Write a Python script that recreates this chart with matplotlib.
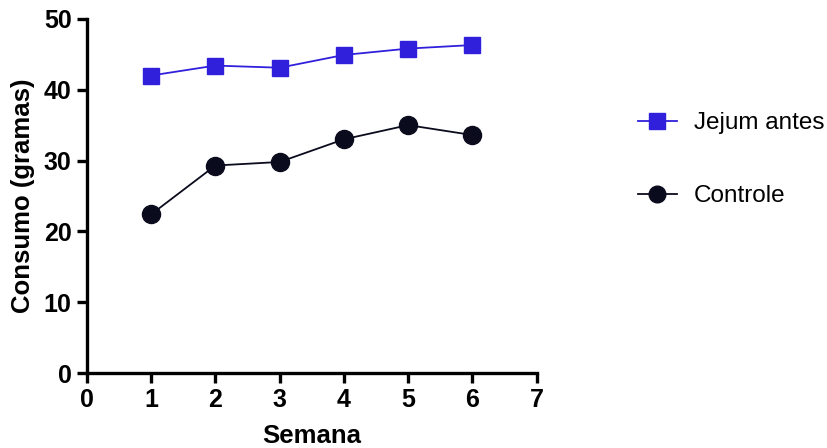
import matplotlib
matplotlib.use("Agg")
import matplotlib.pyplot as plt
from matplotlib.lines import Line2D

semanas = [1, 2, 3, 4, 5, 6]
jejum_antes = [42.0, 43.4, 43.1, 44.9, 45.8, 46.3]
controle = [22.4, 29.3, 29.8, 33.0, 35.0, 33.6]
xticks = [0, 1, 2, 3, 4, 5, 6, 7]
yticks = [0, 10, 20, 30, 40, 50]

plt.rcParams['font.family'] = ['Liberation Sans', 'DejaVu Sans']

fig = plt.figure(figsize=(8.27, 4.48), dpi=100)
ax = fig.add_axes([0.105, 0.167, 0.544, 0.791])

blue = '#3020dc'
dark = '#0b0b1e'
ax.plot(semanas, jejum_antes, color=blue, marker='s', markersize=12, lw=1.3, label='Jejum antes', clip_on=False)
ax.plot(semanas, controle, color=dark, marker='o', markersize=13, lw=1.3, label='Controle', clip_on=False)

ax.set_xlim(0, 7)
ax.set_ylim(0, 50)
ax.set_xticks(xticks)
ax.set_yticks(yticks)
for s in ['top', 'right']:
    ax.spines[s].set_visible(False)
for s in ['left', 'bottom']:
    ax.spines[s].set_linewidth(2.4)
ax.tick_params(width=2.4, length=7, direction='out', labelsize=18, pad=4)
for lab in ax.get_xticklabels() + ax.get_yticklabels():
    lab.set_fontweight('bold')
ax.set_xlabel('Semana', fontsize=18.5, fontweight='bold', labelpad=8)
ax.set_ylabel('Consumo (gramas)', fontsize=18.5, fontweight='bold', labelpad=6)

handles = [
    Line2D([0], [0], color=blue, marker='s', markersize=11, lw=1.3),
    Line2D([0], [0], color=dark, marker='o', markersize=12, lw=1.3),
]
fig.legend(handles, ['Jejum antes', 'Controle'], loc='center left',
           bbox_to_anchor=(0.771, 0.643), frameon=False, fontsize=17.5,
           labelspacing=2.1, handlelength=1.6, handletextpad=0.7,
           borderaxespad=0, borderpad=0)

fig.savefig('out.png', dpi=100)
